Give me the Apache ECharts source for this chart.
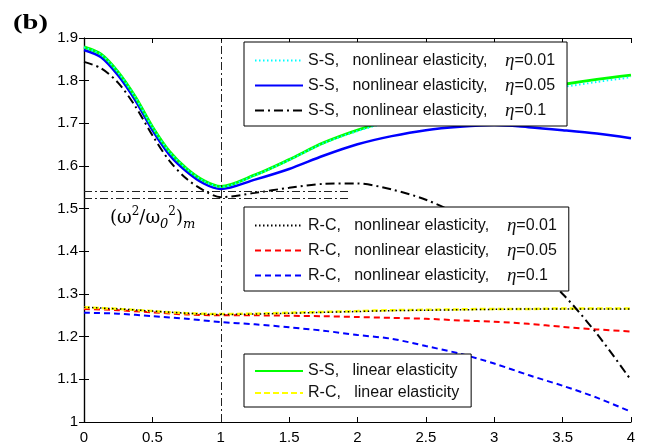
<!DOCTYPE html>
<html>
<head>
<meta charset="utf-8">
<script src="https://cdn.jsdelivr.net/npm/echarts@6/dist/echarts.min.js"></script>
<style>html,body{margin:0;padding:0;background:#fff}#c{width:650px;height:448px}</style>
</head>
<body>
<div id="c"></div>
<script>
// ---- data ----
const xsSS = [0,0.125,0.25,0.375,0.5,0.625,0.75,0.875,1,1.25,1.5,1.75,2,2.25,2.5,2.75,3,3.25,3.5,3.75,4];
const ssLinear = [1.879,1.862,1.820,1.762,1.692,1.634,1.594,1.566,1.552,1.579,1.615,1.654,1.684,1.708,1.728,1.746,1.762,1.777,1.791,1.803,1.813];
const ss001    = [1.878,1.861,1.819,1.761,1.691,1.633,1.593,1.565,1.551,1.578,1.614,1.653,1.682,1.705,1.725,1.742,1.757,1.771,1.785,1.797,1.808];
const ss005    = [1.872,1.855,1.812,1.754,1.684,1.626,1.587,1.559,1.546,1.568,1.593,1.624,1.651,1.670,1.684,1.692,1.696,1.691,1.684,1.676,1.665];
const ss01     = [1.844,1.829,1.795,1.740,1.672,1.612,1.570,1.543,1.527,1.537,1.549,1.558,1.559,1.545,1.521,1.484,1.434,1.371,1.300,1.207,1.098];
const xsRC = [0,0.25,0.5,0.75,1,1.25,1.5,1.75,2,2.25,2.5,2.75,3,3.25,3.5,3.75,4];
const rcLinear = [1.269,1.265,1.260,1.255,1.253,1.254,1.256,1.258,1.260,1.262,1.263,1.264,1.265,1.265,1.266,1.266,1.266];
const rc001    = [1.269,1.265,1.260,1.255,1.252,1.253,1.255,1.257,1.259,1.261,1.262,1.263,1.264,1.265,1.265,1.265,1.265];
const rc005    = [1.265,1.262,1.257,1.252,1.250,1.250,1.249,1.248,1.246,1.244,1.242,1.238,1.235,1.230,1.223,1.217,1.212];
const rc01     = [1.256,1.254,1.248,1.242,1.234,1.229,1.222,1.214,1.204,1.195,1.178,1.160,1.137,1.110,1.085,1.057,1.024];
const refX = 1;
const refY = [1.540, 1.524];
const refXEnd = 1.95;
const names = {
  ss001: 'S-S,   nonlinear elasticity,    η=0.01',
  ss005: 'S-S,   nonlinear elasticity,    η=0.05',
  ss01:  'S-S,   nonlinear elasticity,    η=0.1',
  rc001: 'R-C,   nonlinear elasticity,    η=0.01',
  rc005: 'R-C,   nonlinear elasticity,    η=0.05',
  rc01:  'R-C,   nonlinear elasticity,    η=0.1',
  ssLin: 'S-S,   linear elasticity',
  rcLin: 'R-C,   linear elasticity'
};

const FONT = 'Liberation Sans, Arial, sans-serif';
const dashDot = [9, 4, 2, 4];

function line(name, xs, ys, color, type, width, extra) {
  return Object.assign({
    name, type: 'line', data: xs.map((x, i) => [x, ys[i]]), smooth: 0.3, symbol: 'none',
    lineStyle: { color, type, width }, itemStyle: { color }, z: 3
  }, extra || {});
}

const legendBase = {
  orient: 'vertical', left: 244, backgroundColor: '#fff', borderColor: '#000', borderWidth: 1,
  padding: [9, 12, 6, 10], itemWidth: 48, itemHeight: 14, itemGap: 6, selectedMode: false,
  itemStyle: { opacity: 0 },
  formatter: n => {
    const i = n.indexOf('η');
    if (i < 0) return '{t|' + n + '}';
    return '{t|' + n.slice(0, i) + '}{e|η}{t|' + n.slice(i + 1) + '}';
  },
  textStyle: {
    rich: {
      t: { fontFamily: FONT, fontSize: 16, lineHeight: 18, color: '#111' },
      e: { fontFamily: 'Liberation Serif, serif', fontStyle: 'italic', fontSize: 19, lineHeight: 18, color: '#111' }
    }
  }
};

const chart = echarts.init(document.getElementById('c'));
chart.setOption({
  animation: false,
  backgroundColor: '#fff',
  grid: { left: 84, right: 19, top: 38, bottom: 26 },
  xAxis: [
    { type: 'value', min: 0, max: 4, interval: 0.5,
      axisLine: { lineStyle: { color: '#000', width: 1.2 } },
      axisTick: { inside: true, length: 5, lineStyle: { color: '#000' } },
      axisLabel: { color: '#000', fontFamily: FONT, fontSize: 15, margin: 8 },
      splitLine: { show: false } },
    { type: 'value', position: 'top', min: 0, max: 4, interval: 0.5,
      axisLine: { show: true, lineStyle: { color: '#000', width: 1.2 } },
      axisTick: { inside: true, length: 5, lineStyle: { color: '#000' } },
      axisLabel: { show: false }, splitLine: { show: false } }
  ],
  yAxis: [
    { type: 'value', min: 1, max: 1.9, interval: 0.1,
      axisLine: { show: true, lineStyle: { color: '#000', width: 1.2 } },
      axisTick: { show: true, inside: true, length: 5, lineStyle: { color: '#000' } },
      axisLabel: { color: '#000', fontFamily: FONT, fontSize: 15, margin: 6,
        formatter: v => String(+v.toFixed(1)) },
      splitLine: { show: false } },
    { type: 'value', position: 'right', min: 1, max: 1.9, interval: 0.1,
      axisLine: { show: true, lineStyle: { color: '#000', width: 1.2 } },
      axisTick: { show: true, inside: true, length: 5, lineStyle: { color: '#000' } },
      axisLabel: { show: false }, splitLine: { show: false } }
  ],
  legend: [
    Object.assign({}, legendBase, { top: 42, data: [names.ss001, names.ss005, names.ss01] }),
    Object.assign({}, legendBase, { top: 207, data: [names.rc001, names.rc005, names.rc01] }),
    Object.assign({}, legendBase, { top: 354, data: [names.ssLin, names.rcLin] })
  ],
  series: [
    line(names.rc01, xsRC, rc01, '#0000ff', [6, 4], 2),
    line(names.rc005, xsRC, rc005, '#ff0000', [6, 4], 2),
    line(names.rcLin, xsRC, rcLinear, '#ffff00', [6, 3], 2.5),
    line(names.rc001, xsRC, rc001, '#000000', [1.5, 2.5], 1.5),
    line(names.ss01, xsSS, ss01, '#000000', dashDot, 2, {
      markLine: {
        silent: true, symbol: 'none', label: { show: false },
        lineStyle: { color: '#222', width: 1, type: [8, 3, 2, 3] },
        data: [
          { xAxis: refX },
          [{ coord: [0, refY[0]] }, { coord: [refXEnd, refY[0]] }],
          [{ coord: [0, refY[1]] }, { coord: [refXEnd, refY[1]] }]
        ]
      }
    }),
    line(names.ss005, xsSS, ss005, '#0000ff', 'solid', 2.5),
    line(names.ssLin, xsSS, ssLinear, '#00ff00', 'solid', 3),
    line(names.ss001, xsSS, ss001, '#00ffff', [1.5, 2.5], 2)
  ],
  graphic: [
    { type: 'text', left: 13, top: 12, scaleX: 1.3, style: { text: '(b)', font: 'bold 22px "Liberation Serif", serif', fill: '#000' } },
    { type: 'text', left: 110, top: 206, style: {
      text: '{p|(ω}{s|2}{p|/ω}{b|0}{s|2}{p|)}{b|m}',
      rich: {
        p: { fontFamily: 'DejaVu Serif, serif', fontSize: 18, color: '#666', lineHeight: 25, verticalAlign: 'middle' },
        s: { fontFamily: 'DejaVu Serif, serif', fontSize: 12, color: '#666', lineHeight: 25, verticalAlign: 'top' },
        b: { fontFamily: 'DejaVu Serif, serif', fontStyle: 'italic', fontSize: 13, color: '#666', lineHeight: 25, verticalAlign: 'bottom' }
      }
    } }
  ]
});
</script>
</body>
</html>
